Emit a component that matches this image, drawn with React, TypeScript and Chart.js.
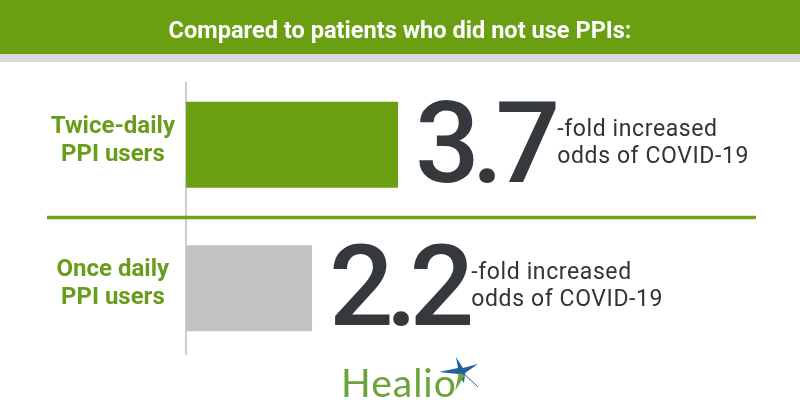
import React, { useEffect, useRef } from "react";
import { Chart, registerables } from "chart.js";

Chart.register(...registerables);

const titleText = "Compared to patients who did not use PPIs:";
const categories: string[][] = [
  ["Twice-daily", "PPI users"],
  ["Once daily", "PPI users"],
];
const foldValues: number[] = [3.7, 2.2];
const valueLabels: string[] = ["3.7", "2.2"];
const noteLines: string[] = ["-fold increased", "odds of COVID-19"];
const barColors: string[] = ["#6aa012", "#c2c2c2"];
const brandText = "Healio";

const GREEN = "#6a9f12";
const LABEL_GREEN = "#6a9c1c";
const DARK = "#35393e";

const decorPlugin = {
  id: "decor",
  beforeDraw(chart: any) {
    const ctx = chart.ctx;
    const w = chart.width;
    ctx.save();
    // header band
    ctx.fillStyle = GREEN;
    ctx.fillRect(0, 0, w, 54);
    ctx.fillStyle = "#d9d9d9";
    ctx.fillRect(0, 54, w, 8);
    // title (condensed)
    ctx.font = "bold 24px Roboto";
    const tw = ctx.measureText(titleText).width;
    const sx = 463 / tw;
    ctx.translate(w / 2, 38);
    ctx.scale(sx, 1);
    ctx.fillStyle = "#ffffff";
    ctx.textAlign = "center";
    ctx.textBaseline = "alphabetic";
    ctx.fillText(titleText, 0, 0);
    ctx.restore();

    // vertical axis line
    const xs = chart.scales.x;
    const area = chart.chartArea;
    const x0 = xs.getPixelForValue(0);
    ctx.save();
    ctx.strokeStyle = "#bdbdbd";
    ctx.lineWidth = 1.5;
    ctx.beginPath();
    ctx.moveTo(x0, area.top + 9);
    ctx.lineTo(x0, area.bottom - 5);
    ctx.stroke();
    ctx.restore();
  },
  afterDatasetsDraw(chart: any) {
    const ctx = chart.ctx;
    const meta = chart.getDatasetMeta(0);
    ctx.save();
    // separator line
    if (meta.data.length > 1) {
      const ym = (meta.data[0].y + meta.data[1].y) / 2 + 1;
      ctx.strokeStyle = "#6ea318";
      ctx.lineWidth = 3.5;
      ctx.beginPath();
      ctx.moveTo(47, ym);
      ctx.lineTo(756, ym);
      ctx.stroke();
    }
    meta.data.forEach((bar: any, i: number) => {
      const nx = bar.x + 17;
      ctx.font = "500 114px Roboto";
      (ctx as any).letterSpacing = "-8px";
      ctx.fillStyle = DARK;
      ctx.textAlign = "left";
      ctx.textBaseline = "alphabetic";
      ctx.fillText(valueLabels[i], nx, bar.y + 37);
      const nw = ctx.measureText(valueLabels[i]).width;
      (ctx as any).letterSpacing = "0.6px";
      ctx.font = "23px Roboto";
      ctx.fillStyle = "#333333";
      ctx.fillText(noteLines[0], nx + nw + 5, bar.y - 9);
      ctx.fillText(noteLines[1], nx + nw + 5, bar.y + 18);
      (ctx as any).letterSpacing = "0px";
    });
    ctx.restore();

    // brand logo
    ctx.save();
    ctx.font = "39px Lato";
    (ctx as any).letterSpacing = "1px";
    ctx.fillStyle = "#6ca43a";
    ctx.textAlign = "left";
    ctx.textBaseline = "alphabetic";
    ctx.fillText(brandText, 341, 397);
    (ctx as any).letterSpacing = "0px";
    // star
    const cx = 461, cy = 371;
    ctx.fillStyle = "#2060a0";
    ctx.beginPath();
    ctx.moveTo(cx - 5, cy - 14);
    ctx.lineTo(cx + 2, cy - 3);
    ctx.lineTo(cx + 17, cy - 7);
    ctx.lineTo(cx + 4, cy + 2);
    ctx.lineTo(cx + 3, cy + 12);
    ctx.lineTo(cx - 3, cy + 3);
    ctx.lineTo(cx - 22, cy + 1);
    ctx.lineTo(cx - 3, cy - 3);
    ctx.closePath();
    ctx.fill();
    ctx.fillStyle = "#6ca43a";
    ctx.beginPath();
    ctx.moveTo(cx - 2, cy + 2);
    ctx.lineTo(cx + 4, cy + 4);
    ctx.lineTo(cx - 6, cy + 20);
    ctx.closePath();
    ctx.fill();
    ctx.strokeStyle = "#2060a0";
    ctx.lineWidth = 1;
    ctx.beginPath();
    ctx.moveTo(cx, cy);
    ctx.lineTo(cx + 17, cy + 16);
    ctx.stroke();
    ctx.restore();
  },
};

export default function App() {
  const ref = useRef<HTMLCanvasElement | null>(null);
  useEffect(() => {
    if (!ref.current) return;
    const chart = new Chart(ref.current, {
      type: "bar",
      data: {
        labels: categories,
        datasets: [
          {
            data: foldValues,
            backgroundColor: barColors,
            borderWidth: 0,
            barPercentage: 0.6,
            categoryPercentage: 1,
          },
        ],
      },
      options: {
        indexAxis: "y",
        responsive: false,
        animation: false,
        layout: { padding: { top: 73, bottom: 60, left: 0, right: 41 } },
        plugins: {
          legend: { display: false },
          tooltip: { enabled: false },
          title: { display: false },
        },
        scales: {
          x: { display: false, min: 0, max: 10 },
          y: {
            afterFit(scale: any) {
              scale.width = 186;
            },
            border: { display: false },
            grid: { display: false, drawTicks: false },
            ticks: {
              crossAlign: "center",
              padding: 11,
              labelOffset: -4,
              color: LABEL_GREEN,
              font: { family: "Roboto", weight: "bold", size: 24, lineHeight: 1.17 },
            },
          },
        },
      },
      plugins: [decorPlugin],
    } as any);
    return () => chart.destroy();
  }, []);
  return (
    <div style={{ position: "absolute", left: 0, top: 0, width: 800, height: 420, background: "#fff" }}>
      <canvas ref={ref} width={800} height={420} />
    </div>
  );
}
